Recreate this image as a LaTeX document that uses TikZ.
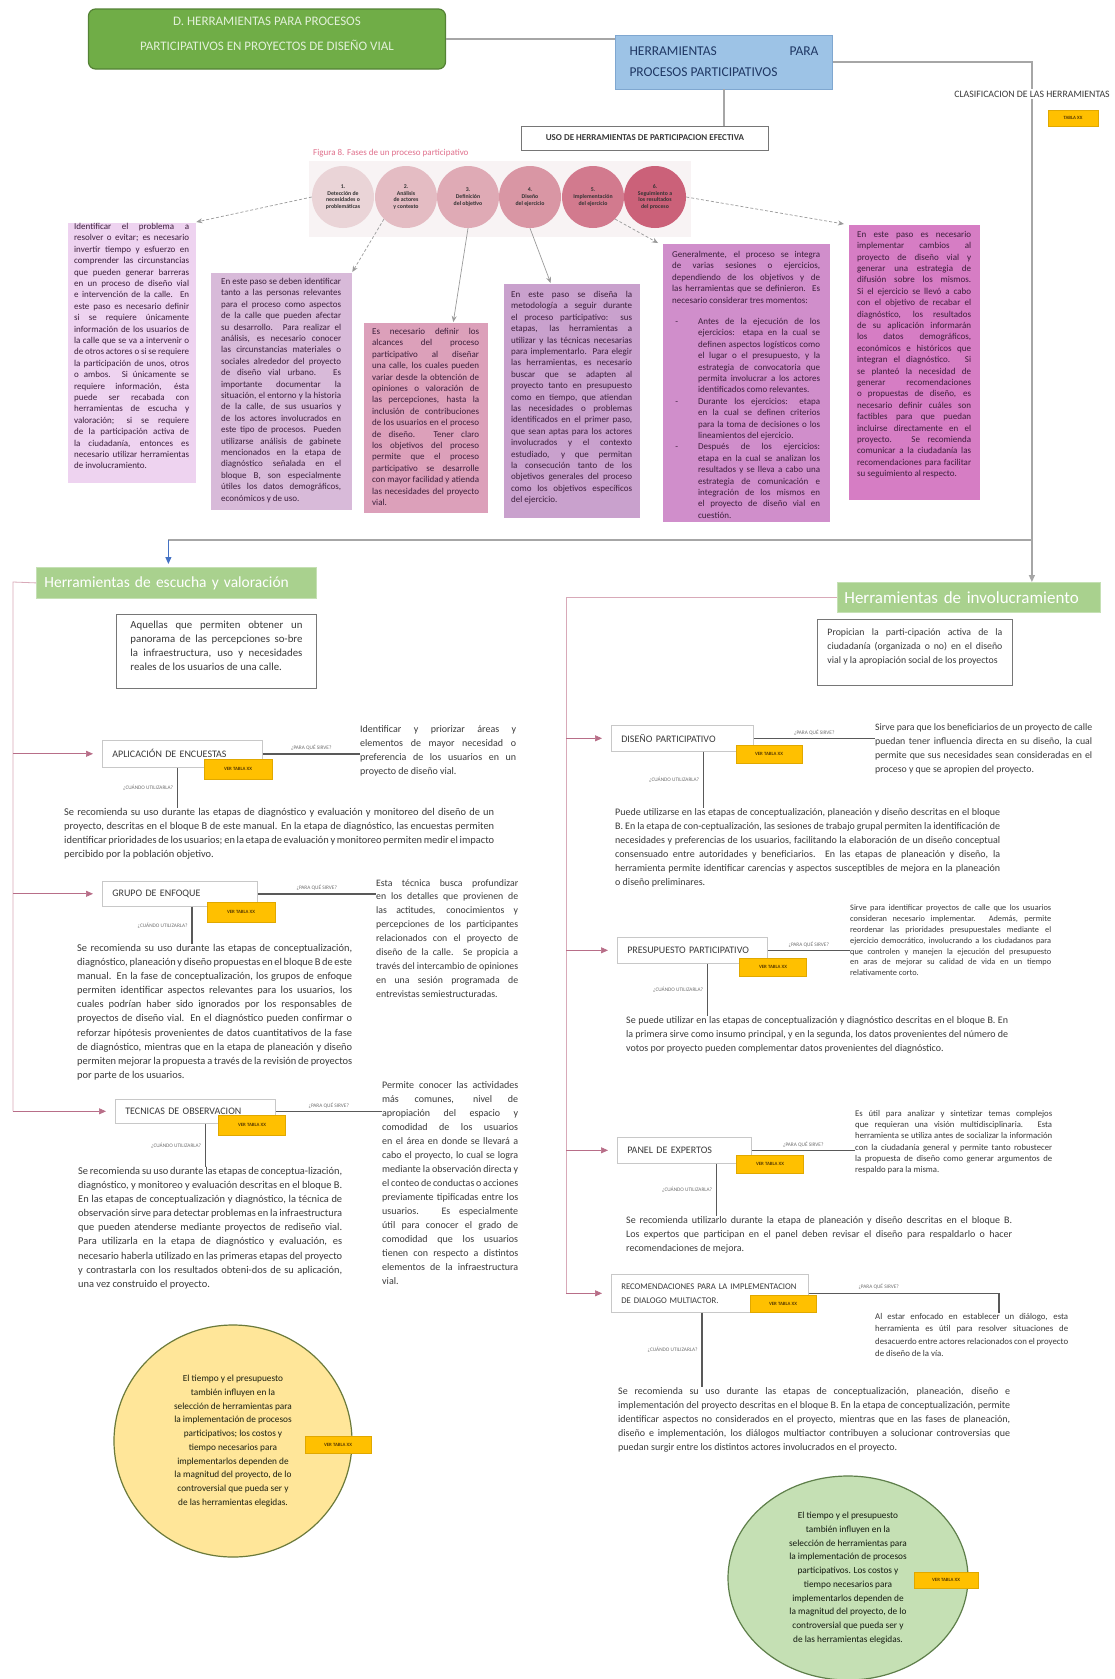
\documentclass[tikz,border=0pt]{standalone}
\usepackage{fontspec}
\setmainfont{Carlito}
\usetikzlibrary{arrows.meta,calc,shapes.geometric}
\hyphenpenalty=10000
\exhyphenpenalty=10000
\tolerance=9999
\emergencystretch=40pt
\hbadness=10000
\hfuzz=30pt
\vbadness=10000
\vfuzz=30pt
\definecolor{titleG}{HTML}{70AD47}
\definecolor{titleGD}{HTML}{548235}
\definecolor{titleT}{HTML}{E2F0D9}
\definecolor{blueF}{HTML}{9DC3E6}
\definecolor{blueD}{HTML}{7FA7D0}
\definecolor{blueT}{HTML}{203864}
\definecolor{headG}{HTML}{A9D18E}
\definecolor{headGD}{HTML}{C5E0B4}
\definecolor{tagO}{HTML}{FFC000}
\definecolor{tagOD}{HTML}{E0A800}
\definecolor{tagT}{HTML}{5A3C00}
\definecolor{lineG}{HTML}{A6A6A6}
\definecolor{connG}{HTML}{595959}
\definecolor{pinkL}{HTML}{D8A9B8}
\definecolor{pinkA}{HTML}{B86E88}
\definecolor{arrG}{HTML}{9A9A9A}
\definecolor{txtG}{HTML}{3A3A3A}
\definecolor{qG}{HTML}{6F6F6F}
\definecolor{boxG}{HTML}{C8C8C8}
\definecolor{descG}{HTML}{767676}
\definecolor{capP}{HTML}{E0708C}
\definecolor{bandF}{HTML}{F8F3F4}
\definecolor{pT}{HTML}{3B1E3B}
\definecolor{bA}{HTML}{EED3F0}
\definecolor{bB}{HTML}{D8BAD9}
\definecolor{bC}{HTML}{DCA0BA}
\definecolor{bD}{HTML}{C9A1CD}
\definecolor{bE}{HTML}{D08ECB}
\definecolor{bF}{HTML}{D67DC4}
\definecolor{cA}{HTML}{EAD4D7}
\definecolor{cB}{HTML}{E4BCC3}
\definecolor{cC}{HTML}{DFAAB5}
\definecolor{cD}{HTML}{D996A4}
\definecolor{cE}{HTML}{D27A8E}
\definecolor{cF}{HTML}{CB6179}
\definecolor{yelF}{HTML}{FFE699}
\definecolor{yelD}{HTML}{6B7A3A}
\definecolor{grnF}{HTML}{C5E0B4}
\definecolor{grnD}{HTML}{5E7F4A}
\definecolor{blueA}{HTML}{4472C4}
\newcommand{\pbx}[3]{\parbox[c][#2][t]{#1}{#3}}
\newcommand{\bul}{\leavevmode\llap{-\hspace{20pt}}}
\begin{document}
\begin{tikzpicture}[x=1pt,y=-1pt,
  gline/.style={draw=lineG, line width=1.3pt},
  cline/.style={draw=connG, line width=1.6pt},
  pline/.style={draw=pinkL, line width=0.8pt},
  parrow/.style={draw=pinkA, line width=0.7pt, -{Triangle[length=7pt,width=6pt]}, shorten >=9pt},
  dline/.style={draw=arrG, line width=0.7pt, dash pattern=on 3pt off 2pt, -{Stealth[length=6pt,width=5pt]}},
  sline/.style={draw=arrG, line width=0.7pt, -{Stealth[length=6pt,width=5pt]}},
  para/.style={anchor=north west, inner sep=0pt, align=justify, text=txtG, font=\fontsize{10.4}{14.1}\selectfont},
  parb/.style={para, font=\fontsize{10}{14.1}\selectfont},
  colt/.style={para, font=\fontsize{10}{14}\selectfont},
  smallpara/.style={para, font=\fontsize{8.3}{10.8}\selectfont},
  labbox/.style={draw=boxG, line width=0.6pt, fill=white, anchor=north west, inner xsep=10pt, inner ysep=0pt, align=left, font=\fontsize{10}{12}\selectfont, text=txtG},
  tagbox/.style={fill=tagO, draw=tagOD, line width=0.4pt, inner sep=0pt, font=\fontsize{4.8}{5}\selectfont\bfseries, text=tagT},
  qlab/.style={font=\fontsize{5.3}{6}\selectfont, text=qG, inner sep=1.5pt},
  headbox/.style={fill=headG, draw=headGD, line width=0.8pt, text=white, anchor=north west, align=left, inner xsep=8pt, font=\fontsize{15.5}{17}\selectfont},
  descbox/.style={draw=descG, line width=0.9pt, fill=white, anchor=north west, text=txtG, font=\fontsize{10.8}{14}\selectfont},
  pbox/.style={anchor=north west, draw=white, line width=0.3pt, text=pT, font=\fontsize{9}{11.4}\selectfont},
  stepc/.style={circle, minimum size=62pt, inner sep=0pt, align=center, font=\fontsize{5.8}{6.8}\selectfont\bfseries, text=black!80},
  bigc/.style={ellipse, line width=1.2pt, inner sep=0pt, align=center, font=\fontsize{9.3}{13.7}\selectfont}
]
\useasboundingbox (0,0) rectangle (1114,1679);
\fill[white] (0,0) rectangle (1114,1679);

% ---------------- top ----------------
\node[rounded corners=7pt, fill=titleG, draw=titleGD, line width=1.2pt, text=titleT,
      font=\fontsize{13}{25}\selectfont, minimum width=357, minimum height=60, inner sep=0pt] (title) at (267,39)
      {\smash{\raisebox{2pt}{\parbox[c]{340pt}{\centering D. HERRAMIENTAS PARA PROCESOS\\PARTICIPATIVOS EN PROYECTOS DE DISEÑO VIAL}}}};
\node[fill=blueF, draw=blueD, line width=0.8pt, text=blueT, font=\fontsize{13.5}{21}\selectfont,
      minimum width=217, minimum height=54, inner sep=0pt] (herr) at (724,62)
      {\parbox{189pt}{HERRAMIENTAS\hfill PARA\\PROCESOS PARTICIPATIVOS}};
\node[draw=descG, line width=0.8pt, fill=white, font=\fontsize{9}{10}\selectfont\bfseries, text=txtG,
      minimum width=247, minimum height=24, inner sep=0pt] (uso) at (645,138)
      {USO DE HERRAMIENTAS DE PARTICIPACION EFECTIVA};
\draw[gline] (title.east) -- (title.east -| herr.west);
\draw[gline] (herr.south) -- (herr.south |- uso.north);

\node[anchor=west, font=\fontsize{9}{10}\selectfont, text=capP, inner sep=0pt] (cap) at (313,153)
      {Figura 8. Fases de un proceso participativo};
\fill[bandF] (309,161) rectangle (691,237);

\node[stepc, fill=cA] (c1) at (343,197) {1.\\Detección de\\necesidades o\\problemáticas};
\node[stepc, fill=cB] (c2) at (406,197) {2.\\Análisis\\de actores\\y contexto};
\node[stepc, fill=cC] (c3) at (468,197) {3.\\Definición\\del objetivo};
\node[stepc, fill=cD] (c4) at (530,197) {4.\\Diseño\\del ejercicio};
\node[stepc, fill=cE] (c5) at (593,197) {5.\\Implementación\\del ejercicio};
\node[stepc, fill=cF] (c6) at (655,197) {6.\\Seguimiento a\\los resultados\\del proceso};

% purple boxes
\node[pbox, fill=bA, inner xsep=7pt, inner ysep=1pt] (b1) at (67,222) {\pbx{115pt}{259pt}{Identificar el problema a resolver o evitar; es necesario invertir tiempo y esfuerzo en comprender las circunstancias que pueden generar barreras en un proceso de diseño vial e intervención de la calle. En este paso es necesario definir si se requiere únicamente información de los usuarios de la calle que se va a intervenir o de otros actores o si se requiere la participación de unos, otros o ambos. Si únicamente se requiere información, ésta puede ser recabada con herramientas de escucha y valoración; si se requiere de la participación activa de la ciudadanía, entonces es necesario utilizar herramientas de involucramiento.}};
\node[pbox, fill=bB, inner xsep=11pt, inner ysep=6pt] (b2) at (210,272) {\pbx{120pt}{226pt}{En este paso se deben identificar tanto a las personas relevantes para el proceso como aspectos de la calle que pueden afectar su desarrollo. Para realizar el análisis, es necesario conocer las circunstancias materiales o sociales alrededor del proyecto de diseño vial urbano. Es importante documentar la situación, el entorno y la historia de la calle, de sus usuarios y de los actores involucrados en este tipo de procesos. Pueden utilizarse análisis de gabinete mencionados en la etapa de diagnóstico señalada en el bloque B, son especialmente útiles los datos demográficos, económicos y de uso.}};
\node[pbox, fill=bC, inner xsep=9pt, inner ysep=6pt] (b3) at (363,322) {\pbx{107pt}{179pt}{Es necesario definir los alcances del proceso participativo al diseñar una calle, los cuales pueden variar desde la obtención de opiniones o valoración de las percepciones, hasta la inclusión de contribuciones de los usuarios en el proceso de diseño. Tener claro los objetivos del proceso permite que el proceso participativo se desarrolle con mayor facilidad y atienda las necesidades del proyecto vial.}};
\node[pbox, fill=bD, inner xsep=8pt, inner ysep=8pt] (b4) at (503,283) {\pbx{121pt}{219pt}{En este paso se diseña la metodología a seguir durante el proceso participativo: sus etapas, las herramientas a utilizar y las técnicas necesarias para implementarlo. Para elegir las herramientas, es necesario buscar que se adapten al proyecto tanto en presupuesto como en tiempo, que atiendan las necesidades o problemas identificados en el primer paso, que sean aptas para los actores involucrados y el contexto estudiado, y que permitan la consecución tanto de los objetivos generales del proceso como los objetivos específicos del ejercicio.}};
\node[pbox, fill=bE, inner xsep=10pt, inner ysep=8pt] (b5) at (662,243) {\pbx{148pt}{263pt}{Generalmente, el proceso se integra de varias sesiones o ejercicios, dependiendo de los objetivos y de las herramientas que se definieron. Es necesario considerar tres momentos:\par\vspace{10pt}
{\leftskip=26pt \bul Antes de la ejecución de los ejercicios: etapa en la cual se definen aspectos logísticos como el lugar o el presupuesto, y la estrategia de convocatoria que permita involucrar a los actores identificados como relevantes.\par
\bul Durante los ejercicios: etapa en la cual se definen criterios para la toma de decisiones o los lineamientos del ejercicio.\par
\bul Después de los ejercicios: etapa en la cual se analizan los resultados y se lleva a cabo una estrategia de comunicación e integración de los mismos en el proyecto de diseño vial en cuestión.\par}}};
\node[pbox, fill=bF, inner xsep=9pt, inner ysep=7pt] (b6) at (848,224) {\pbx{114pt}{262pt}{En este paso es necesario implementar cambios al proyecto de diseño vial y generar una estrategia de difusión sobre los mismos. Si el ejercicio se llevó a cabo con el objetivo de recabar el diagnóstico, los resultados de su aplicación informarán los datos demográficos, económicos e históricos que integran el diagnóstico. Si se planteó la necesidad de generar recomendaciones o propuestas de diseño, es necesario definir cuáles son factibles para que puedan incluirse directamente en el proyecto. Se recomienda comunicar a la ciudadanía las recomendaciones para facilitar su seguimiento al respecto.}};

\draw[dline] (c1.west) -- (b1.north east);
\draw[dline] (c2.south west) -- (b2.north east);
\draw[sline] (c3.south) -- ([xshift=-35pt]b3.north east);
\draw[sline] (c4.south) -- ([xshift=-21pt]b4.north);
\draw[dline] (c5.south east) -- ([xshift=-4pt]b5.north west);
\draw[dline] (c6.east) -- ([xshift=-4pt]b6.north west);

% ---------------- section headers ----------------
\node[headbox, text width=264pt, minimum height=31] (esc) at (36,567) {Herramientas de escucha y valoración};
\node[headbox, inner xsep=7pt, text width=249pt, minimum height=30, font=\fontsize{17}{18}\selectfont] (invol) at (837,582) {Herramientas de involucramiento};

\draw[gline, -{Triangle[length=7pt,width=6pt]}] (herr.east) -- ++(199,0) coordinate (rc) -- (rc |- invol.north);
\coordinate (hj) at (rc |- 0,540);
\coordinate (ej) at ($(esc.north)+(-8,-27)$);
\draw[gline] (hj) -- (ej);
\draw[draw=blueA, line width=1pt, -{Triangle[length=7pt,width=6pt]}, shorten >=3pt] (ej) -- (ej |- esc.north);

\node[fill=white, font=\fontsize{9.8}{11}\selectfont, text=txtG, inner sep=1.5pt] (clas) at (1032,94) {CLASIFICACION DE LAS HERRAMIENTAS};
\node[tagbox, minimum width=50, minimum height=16] (tabla) at (1073,118) {TABLA XX};

% ---------------- left section ----------------
\node[descbox, inner xsep=14pt, inner ysep=7pt] (escD) at (116,614) {\pbx{172pt}{60pt}{Aquellas que permiten obtener un panorama de las percepciones so-bre la infraestructura, uso y necesidades reales de los usuarios de una calle.}};

\node[labbox, text width=140pt, minimum height=27] (apl) at (102,740) {APLICACIÓN DE ENCUESTAS};
\node[tagbox, minimum width=68, minimum height=20] (aplT) at (238,769) {VER TABLA XX};
\node[colt, text width=156pt] (aplR) at (360,725) {Identificar y priorizar áreas y elementos de mayor necesidad o preferencia de los usuarios en un proyecto de diseño vial.};
\node[para, text width=430pt] (aplP) at (64,808) {Se recomienda su uso durante las etapas de diagnóstico y evaluación y monitoreo del diseño de un proyecto, descritas en el bloque B de este manual. En la etapa de diagnóstico, las encuestas permiten identificar prioridades de los usuarios; en la etapa de evaluación y monitoreo permiten medir el impacto percibido por la población objetivo.};
\draw[cline] (apl.east) -- (apl.east -| aplR.west) node[qlab, midway, above=1pt] (aplS) {¿PARA QUÉ SIRVE?};
\coordinate (aplV) at ($(apl.south)+(-5,0)$);
\draw[cline] (aplV) -- (aplV |- aplP.north) node[qlab, midway, left=2pt] (aplQ) {¿CUÁNDO UTILIZARLA?};

\node[labbox, text width=135pt, minimum height=25] (grp) at (102,881) {GRUPO DE ENFOQUE};
\node[tagbox, minimum width=68, minimum height=20] (grpT) at (241,912) {VER TABLA XX};
\node[colt, text width=142pt, font=\fontsize{9.8}{13.9}\selectfont] (grpR) at (376,879) {Esta técnica busca profundizar en los detalles que provienen de las actitudes, conocimientos y percepciones de los participantes relacionados con el proyecto de diseño de la calle. Se propicia a través del intercambio de opiniones en una sesión programada de entrevistas semiestructuradas.};
\node[para, text width=275pt] (grpP) at (77,944) {Se recomienda su uso durante las etapas de conceptualización, diagnóstico, planeación y diseño propuestas en el bloque B de este manual. En la fase de conceptualización, los grupos de enfoque permiten identificar aspectos relevantes para los usuarios, los cuales podrían haber sido ignorados por los responsables de proyectos de diseño vial. En el diagnóstico pueden confirmar o reforzar hipótesis provenientes de datos cuantitativos de la fase de diagnóstico, mientras que en la etapa de planeación y diseño permiten mejorar la propuesta a través de la revisión de proyectos por parte de los usuarios.};
\draw[cline] (grp.east) -- (grp.east -| grpR.west) node[qlab, midway, above=1pt] (grpS) {¿PARA QUÉ SIRVE?};
\coordinate (grpV) at ($(grp.south)+(12,0)$);
\draw[cline] (grpV) -- (grpV |- grpP.north) node[qlab, midway, left=2pt] (grpQ) {¿CUÁNDO UTILIZARLA?};

\node[labbox, text width=140pt, minimum height=24] (tec) at (115,1099) {TECNICAS DE OBSERVACION};
\node[tagbox, minimum width=67, minimum height=20] (tecT) at (252,1125) {VER TABLA XX};
\node[colt, text width=136pt] (tecR) at (382,1081) {Permite conocer las actividades más comunes, nivel de apropiación del espacio y comodidad de los usuarios en el área en donde se llevará a cabo el proyecto, lo cual se logra mediante la observación directa y el conteo de conductas o acciones previamente tipificadas entre los usuarios. Es especialmente útil para conocer el grado de comodidad que los usuarios tienen con respecto a distintos elementos de la infraestructura vial.};
\node[para, text width=264pt] (tecP) at (78,1167) {Se recomienda su uso durante las etapas de conceptua-lización, diagnóstico, y monitoreo y evaluación descritas en el bloque B. En las etapas de conceptualización y diagnóstico, la técnica de observación sirve para detectar problemas en la infraestructura que pueden atenderse mediante proyectos de rediseño vial. Para utilizarla en la etapa de diagnóstico y evaluación, es necesario haberla utilizado en las primeras etapas del proyecto y contrastarla con los resultados obteni-dos de su aplicación, una vez construido el proyecto.};
\draw[cline] (tec.east) -- (tec.east -| tecR.west) node[qlab, midway, above=1pt] (tecS) {¿PARA QUÉ SIRVE?};
\coordinate (tecV) at ($(tec.south)+(10,0)$);
\draw[cline] (tecV) -- (tecV |- tecP.north) node[qlab, midway, left=2pt] (tecQ) {¿CUÁNDO UTILIZARLA?};

\coordinate (lv) at (13,582);
\draw[pline] (esc.west) -- (lv) -- (lv |- tec.west);
\draw[parrow] (lv |- apl.west) -- (apl.west);
\draw[parrow] (lv |- grp.west) -- (grp.west);
\draw[parrow] (lv |- tec.west) -- (tec.west);

\node[bigc, fill=yelF, draw=yelD, minimum width=238, minimum height=232, text=black!75!yelD] (yc) at (233,1441)
  {El tiempo y el presupuesto\\también influyen en la\\selección de herramientas para\\la implementación de procesos\\participativos; los costos y\\tiempo necesarios para\\implementarlos dependen de\\la magnitud del proyecto, de lo\\controversial que pueda ser y\\de las herramientas elegidas.};
\node[tagbox, minimum width=66, minimum height=17] (ycT) at (338,1445) {VER TABLA XX};

% ---------------- right section ----------------
\node[descbox, inner xsep=10pt, inner ysep=9pt, font=\fontsize{9.8}{14}\selectfont] (invD) at (817,619) {\pbx{175pt}{48pt}{Propician la parti-cipación activa de la ciudadanía (organizada o no) en el diseño vial y la apropiación social de los proyectos}};

\node[labbox, text width=122pt, minimum height=26] (dis) at (611,725) {DISEÑO PARTICIPATIVO};
\node[tagbox, minimum width=66, minimum height=18] (disT) at (769,754) {VER TABLA XX};
\node[colt, text width=217pt, font=\fontsize{9.8}{14}\selectfont] (disR) at (875,723) {Sirve para que los beneficiarios de un proyecto de calle puedan tener influencia directa en su diseño, la cual permite que sus necesidades sean consideradas en el proceso y que se apropien del proyecto.};
\node[parb, text width=385pt] (disP) at (615,808) {Puede utilizarse en las etapas de conceptualización, planeación y diseño descritas en el bloque B. En la etapa de con-ceptualización, las sesiones de trabajo grupal permiten la identificación de necesidades y preferencias de los usuarios, facilitando la elaboración de un diseño conceptual consensuado entre autoridades y beneficiarios. En las etapas de planeación y diseño, la herramienta permite identificar carencias y aspectos susceptibles de mejora en la planeación o diseño preliminares.};
\draw[cline] (dis.east) -- (dis.east -| disR.west) node[qlab, midway, above=1pt] (disS) {¿PARA QUÉ SIRVE?};
\coordinate (disV) at ($(dis.south)+(21,0)$);
\draw[cline] (disV) -- (disV |- disP.north) node[qlab, midway, left=2pt] (disQ) {¿CUÁNDO UTILIZARLA?};

\node[labbox, text width=130pt, minimum height=26] (pre) at (617,937) {PRESUPUESTO PARTICIPATIVO};
\node[tagbox, minimum width=67, minimum height=18] (preT) at (773,967) {VER TABLA XX};
\node[smallpara, text width=201pt] (preR) at (850,905) {Sirve para identificar proyectos de calle que los usuarios consideran necesario implementar. Además, permite reordenar las prioridades presupuestales mediante el ejercicio democrático, involucrando a los ciudadanos para que controlen y manejen la ejecución del presupuesto en aras de mejorar su calidad de vida en un tiempo relativamente corto.};
\node[parb, text width=382pt] (preP) at (626,1016) {Se puede utilizar en las etapas de conceptualización y diagnóstico descritas en el bloque B. En la primera sirve como insumo principal, y en la segunda, los datos provenientes del número de votos por proyecto pueden complementar datos provenientes del diagnóstico.};
\draw[cline] (pre.east) -- (pre.east -| preR.west) node[qlab, midway, above=1pt] (preS) {¿PARA QUÉ SIRVE?};
\coordinate (preV) at ($(pre.south)+(15,0)$);
\draw[cline] (preV) -- (preV |- preP.north) node[qlab, midway, left=2pt] (preQ) {¿CUÁNDO UTILIZARLA?};

\node[labbox, text width=114pt, minimum height=26] (pan) at (617,1137) {PANEL DE EXPERTOS};
\node[tagbox, minimum width=67, minimum height=18] (panT) at (770,1164) {VER TABLA XX};
\node[smallpara, text width=197pt, font=\fontsize{8.7}{11.3}\selectfont] (panR) at (855,1110) {Es útil para analizar y sintetizar temas complejos que requieran una visión multidisciplinaria. Esta herramienta se utiliza antes de socializar la información con la ciudadanía general y permite tanto robustecer la propuesta de diseño como generar argumentos de respaldo para la misma.};
\node[parb, text width=386pt] (panP) at (626,1216) {Se recomienda utilizarlo durante la etapa de planeación y diseño descritas en el bloque B. Los expertos que participan en el panel deben revisar el diseño para respaldarlo o hacer recomendaciones de mejora.};
\draw[cline] (pan.east) -- (pan.east -| panR.west) node[qlab, midway, above=1pt] (panS) {¿PARA QUÉ SIRVE?};
\coordinate (panV) at ($(pan.south)+(32,0)$);
\draw[cline] (panV) -- (panV |- panP.north) node[qlab, midway, left=2pt] (panQ) {¿CUÁNDO UTILIZARLA?};

\node[labbox, text width=177pt, minimum height=38, font=\fontsize{8.7}{14}\selectfont] (rec) at (611,1274) {RECOMENDACIONES PARA LA IMPLEMENTACION\\DE DIALOGO MULTIACTOR.};
\node[tagbox, minimum width=66, minimum height=17] (recT) at (783,1304) {VER TABLA XX};
\node[para, text width=193pt, font=\fontsize{8.8}{12.5}\selectfont] (recR) at (875,1313) {Al estar enfocado en establecer un diálogo, esta herramienta es útil para resolver situaciones de desacuerdo entre actores relacionados con el proyecto de diseño de la vía.};
\node[parb, text width=392pt] (recP) at (618,1387) {Se recomienda su uso durante las etapas de conceptualización, planeación, diseño e implementación del proyecto descritas en el bloque B. En la etapa de conceptualización, permite identificar aspectos no considerados en el proyecto, mientras que en las fases de planeación, diseño e implementación, los diálogos multiactor contribuyen a solucionar controversias que puedan surgir entre los distintos actores involucrados en el proyecto.};
\coordinate (recE) at ($(recR.north)+(27,0)$);
\draw[cline] (rec.east) -| (recE);
\node[qlab, anchor=south] (recS) at ($(rec.east -| recE)+(-120,-2)$) {¿PARA QUÉ SIRVE?};
\coordinate (recV) at ($(rec.south)+(-8,0)$);
\draw[cline] (recV) -- (recV |- recP.north) node[qlab, midway, left=2pt] (recQ) {¿CUÁNDO UTILIZARLA?};

\coordinate (rv) at (566,597);
\draw[pline] (invol.west) -- (invol.west -| rv) -- (rv |- rec.west);
\draw[parrow] (rv |- dis.west) -- (dis.west);
\draw[parrow] (rv |- pre.west) -- (pre.west);
\draw[parrow] (rv |- pan.west) -- (pan.west);
\draw[parrow] (rv |- rec.west) -- (rec.west);

\node[bigc, fill=grnF, draw=grnD, minimum width=240, minimum height=204, text=black!80!grnD] (gc) at (848,1578)
  {El tiempo y el presupuesto\\también influyen en la\\selección de herramientas para\\la implementación de procesos\\participativos. Los costos y\\tiempo necesarios para\\implementarlos dependen de\\la magnitud del proyecto, de lo\\controversial que pueda ser y\\de las herramientas elegidas.};
\node[tagbox, minimum width=64, minimum height=16] (gcT) at (946,1580) {VER TABLA XX};
\end{tikzpicture}
\end{document}
